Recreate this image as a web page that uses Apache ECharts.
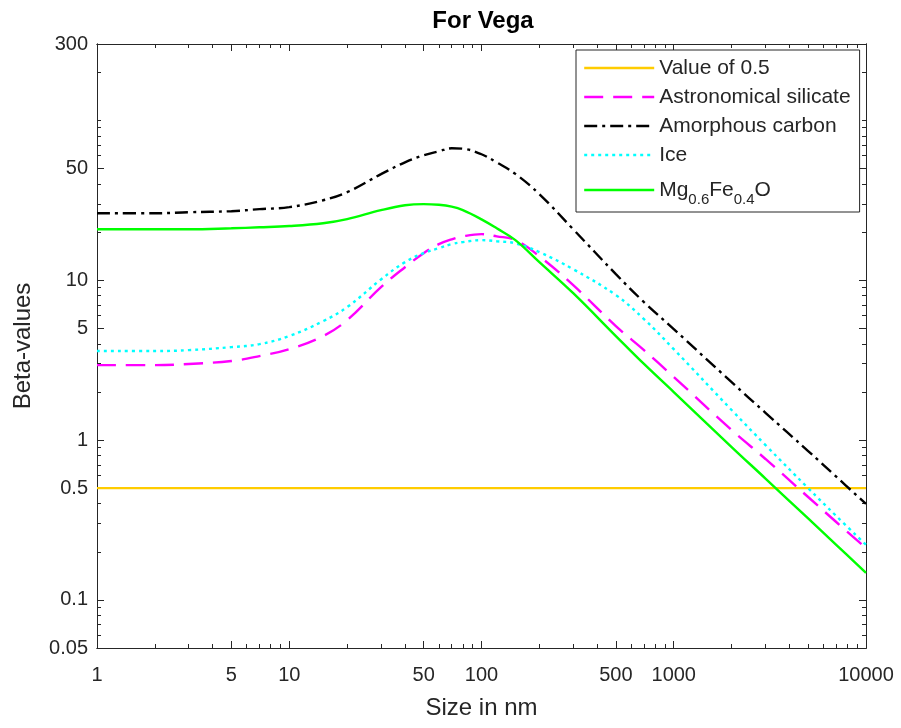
<!DOCTYPE html>
<html>
<head>
<meta charset="utf-8">
<script src="https://cdn.jsdelivr.net/npm/echarts@6/dist/echarts.min.js"></script>
<style>
html,body{margin:0;padding:0;background:#fff;}
#chart{width:901px;height:728px;}
</style>
</head>
<body>
<div id="chart"></div>
<script>
// ---- data ----
const sizes = [1, 2, 3, 5, 7, 10, 15, 20, 30, 40, 50, 60, 70, 80, 100, 120, 150, 200, 300, 500, 700, 1000, 2000, 3000, 5000, 7000, 10000];
const silicate = [2.94, 2.94, 2.99, 3.12, 3.35, 3.70, 4.47, 5.62, 9.04, 12.05, 14.75, 16.8, 18.0, 18.8, 19.4, 18.8, 17.8, 14.1, 9.30, 5.16, 3.65, 2.48, 1.155, 0.761, 0.440, 0.307, 0.211];
const carbon = [26.2, 26.2, 26.6, 27.0, 27.8, 28.6, 31.6, 35.5, 46.0, 54.6, 60.4, 64.0, 66.8, 66.4, 61.3, 54.5, 46.2, 34.5, 20.8, 10.9, 7.29, 4.94, 2.30, 1.48, 0.853, 0.590, 0.398];
const ice = [3.60, 3.60, 3.65, 3.81, 3.98, 4.47, 5.54, 6.78, 10.1, 12.96, 14.75, 15.85, 16.8, 17.3, 17.8, 17.5, 17.0, 14.96, 11.7, 8.06, 5.71, 3.70, 1.54, 0.93, 0.50, 0.335, 0.221];
const mgfeo = [20.8, 20.8, 20.8, 21.1, 21.4, 21.8, 22.7, 24.1, 27.4, 29.4, 29.9, 29.6, 28.8, 27.4, 24.0, 21.1, 17.8, 12.96, 8.29, 4.47, 2.99, 1.995, 0.904, 0.574, 0.323, 0.221, 0.1475];
const refSizes = [1, 10000];
const refValues = [0.5, 0.5];

const seriesNames = ['Value of 0.5', 'Astronomical silicate', 'Amorphous carbon', 'Ice', 'Mg0.6Fe0.4O'];

const xMajorTicks = [1, 5, 10, 50, 100, 500, 1000, 10000];
const xMinorTicks = [2, 3, 4, 6, 7, 8, 9, 20, 30, 40, 60, 70, 80, 90, 200, 300, 400, 600, 700, 800, 900, 2000, 3000, 4000, 5000, 6000, 7000, 8000, 9000];
const yMajorTicks = [0.05, 0.1, 0.5, 1, 5, 10, 50, 300];
const yMinorTicks = [0.06, 0.07, 0.08, 0.09, 0.2, 0.3, 0.4, 0.6, 0.7, 0.8, 0.9, 2, 3, 4, 6, 7, 8, 9, 20, 30, 40, 60, 70, 80, 90, 100, 200];

// ---- chart ----
const AX = '#262626';
const FONT = '"Liberation Sans", Arial, Helvetica, sans-serif';

function pairs(xs, ys) { return xs.map((x, i) => [x, ys[i]]); }

function xAxisDef(position, ticks, len, withLabels) {
  return {
    type: 'log', logBase: 10, min: 1, max: 10000, position: position,
    axisLine: { show: true, onZero: false, lineStyle: { color: AX, width: 1 } },
    axisTick: { show: true, inside: true, length: len, customValues: ticks, lineStyle: { color: AX, width: 1 } },
    axisLabel: withLabels ? {
      show: true, customValues: xMajorTicks, margin: 17, color: AX, fontSize: 20, fontFamily: FONT,
      formatter: v => String(v)
    } : { show: false },
    splitLine: { show: false }, minorTick: { show: false }, minorSplitLine: { show: false },
    name: withLabels ? 'Size in nm' : '', nameLocation: 'middle', nameGap: 48,
    nameTextStyle: { color: AX, fontSize: 24, fontFamily: FONT }
  };
}
function yAxisDef(position, ticks, len, withLabels) {
  return {
    type: 'log', logBase: 10, min: 0.05, max: 300, position: position,
    axisLine: { show: true, onZero: false, lineStyle: { color: AX, width: 1 } },
    axisTick: { show: true, inside: true, length: len, customValues: ticks, lineStyle: { color: AX, width: 1 } },
    axisLabel: withLabels ? {
      show: true, customValues: yMajorTicks, margin: 9, color: AX, fontSize: 20, fontFamily: FONT,
      formatter: v => String(v)
    } : { show: false },
    splitLine: { show: false }, minorTick: { show: false }, minorSplitLine: { show: false },
    name: withLabels ? 'Beta-values' : '', nameLocation: 'middle', nameGap: 62, nameRotate: 90,
    nameTextStyle: { color: AX, fontSize: 24, fontFamily: FONT }
  };
}

const chart = echarts.init(document.getElementById('chart'), null, { renderer: 'canvas' });
const LW = 2.4;
chart.setOption({
  animation: false,
  backgroundColor: '#ffffff',
  textStyle: { fontFamily: FONT },
  title: {
    text: 'For Vega', left: 483, top: 9, textAlign: 'center', padding: 0,
    textStyle: { fontSize: 24, fontWeight: 'bold', color: '#000', fontFamily: FONT }
  },
  grid: { left: 97, right: 35, top: 44, bottom: 80, containLabel: false, outerBoundsMode: 'none' },
  xAxis: [
    xAxisDef('bottom', xMajorTicks, 7, true),
    xAxisDef('bottom', xMinorTicks, 4, false),
    xAxisDef('top', xMajorTicks, 7, false),
    xAxisDef('top', xMinorTicks, 4, false)
  ],
  yAxis: [
    yAxisDef('left', yMajorTicks, 7, true),
    yAxisDef('left', yMinorTicks, 4, false),
    yAxisDef('right', yMajorTicks, 7, false),
    yAxisDef('right', yMinorTicks, 4, false)
  ],
  legend: {
    orient: 'vertical', left: 576, top: 50,
    padding: [7, 9, 5, 7], itemGap: 7, itemWidth: 70, itemHeight: 14,
    borderColor: AX, borderWidth: 1, backgroundColor: '#fff',
    itemStyle: { opacity: 0 },
    lineStyle: { width: LW },
    data: seriesNames,
    textStyle: {
      fontSize: 21, color: AX, fontFamily: FONT, lineHeight: 22,
      rich: {
        n: { fontSize: 21, color: AX, fontFamily: FONT, lineHeight: 34, verticalAlign: 'middle' },
        s: { fontSize: 15, color: AX, fontFamily: FONT, lineHeight: 15, padding: [19, 0, 0, 0], verticalAlign: 'middle' }
      }
    },
    formatter: function (name) {
      if (name === 'Mg0.6Fe0.4O') return '{n|Mg}{s|0.6}{n|Fe}{s|0.4}{n|O}';
      return name;
    }
  },
  series: [
    { name: seriesNames[0], type: 'line', data: pairs(refSizes, refValues), symbol: 'none', xAxisIndex: 0, yAxisIndex: 0,
      lineStyle: { color: '#FFCC00', width: LW, type: 'solid' }, itemStyle: { color: '#FFCC00' } },
    { name: seriesNames[1], type: 'line', data: pairs(sizes, silicate), symbol: 'none', smooth: 0.4, xAxisIndex: 0, yAxisIndex: 0,
      lineStyle: { color: '#FF00FF', width: LW, type: [19, 10] }, itemStyle: { color: '#FF00FF' } },
    { name: seriesNames[2], type: 'line', data: pairs(sizes, carbon), symbol: 'none', smooth: 0.4, xAxisIndex: 0, yAxisIndex: 0,
      lineStyle: { color: '#000000', width: LW, type: [13, 5, 3, 5] }, itemStyle: { color: '#000000' } },
    { name: seriesNames[3], type: 'line', data: pairs(sizes, ice), symbol: 'none', smooth: 0.4, xAxisIndex: 0, yAxisIndex: 0,
      lineStyle: { color: '#00FFFF', width: LW, type: [3, 4] }, itemStyle: { color: '#00FFFF' } },
    { name: seriesNames[4], type: 'line', data: pairs(sizes, mgfeo), symbol: 'none', smooth: 0.4, xAxisIndex: 0, yAxisIndex: 0,
      lineStyle: { color: '#00FF00', width: LW, type: 'solid' }, itemStyle: { color: '#00FF00' } }
  ]
});
</script>
</body>
</html>
